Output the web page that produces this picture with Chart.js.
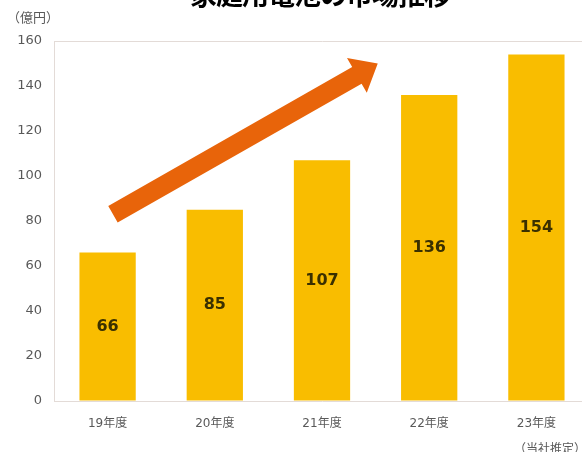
<!DOCTYPE html>
<html lang="ja">
<head>
<meta charset="utf-8">
<script src="https://cdn.jsdelivr.net/npm/chart.js@4.4.1/dist/chart.umd.min.js"></script>
<style>
  html, body { margin: 0; padding: 0; background: #fff; width: 582px; height: 452px; overflow: hidden; }
  .wrap { position: absolute; left: 0; top: 0; width: 592px; height: 452px; }
  .title { position: absolute; left: 190px; top: -26px; font: bold 27px "Noto Sans CJK JP", sans-serif; color: #000; white-space: nowrap; letter-spacing: -1px; }
  .unit { position: absolute; left: 7px; top: 7px; font: 13px "Noto Sans CJK JP", sans-serif; color: #595959; }
  .note { position: absolute; left: 514px; top: 439px; font: 12px "Noto Sans CJK JP", sans-serif; color: #595959; white-space: nowrap; }
</style>
</head>
<body>
<div class="wrap"><canvas id="market"></canvas></div>
<div class="title">家庭用電池の市場推移</div>
<div class="unit">（億円）</div>
<div class="note">（当社推定）</div>
<script>
const YEARS = ["19年度", "20年度", "21年度", "22年度", "23年度"];
const VALUES = [66, 85, 107, 136, 154];
const Y_TICKS = [0, 20, 40, 60, 80, 100, 120, 140, 160];
// trend arrow, in (category index, value) units
const ARROW_FROM = [0.05, 83];
const ARROW_TO = [2.52, 150];

const COLORS = {
  bar: "#F9BD00",
  arrow: "#E8640A",
  axis: "#E3DBD7",
  text: "#595959",
  label: "#3A3000"
};

const barLabels = {
  id: "barLabels",
  afterDatasetsDraw(chart){
    const { ctx } = chart;
    const meta = chart.getDatasetMeta(0);
    ctx.save();
    ctx.font = "bold 16px 'DejaVu Sans', sans-serif";
    ctx.fillStyle = COLORS.label;
    ctx.textAlign = "center";
    ctx.textBaseline = "middle";
    meta.data.forEach((bar, i) => {
      ctx.fillText(String(VALUES[i]), bar.x, (bar.y + bar.base) / 2);
    });
    ctx.restore();
  }
};

const trendArrow = {
  id: "trendArrow",
  afterDatasetsDraw(chart){
    const { ctx, scales: { x, y } } = chart;
    const x0 = x.getPixelForValue(ARROW_FROM[0]), y0 = y.getPixelForValue(ARROW_FROM[1]);
    const x1 = x.getPixelForValue(ARROW_TO[0]), y1 = y.getPixelForValue(ARROW_TO[1]);
    const ang = Math.atan2(y1 - y0, x1 - x0);
    const len = Math.hypot(x1 - x0, y1 - y0);
    const shaft = 19, headW = 40, headL = 24;
    ctx.save();
    ctx.translate(x0, y0);
    ctx.rotate(ang);
    ctx.fillStyle = COLORS.arrow;
    ctx.beginPath();
    ctx.moveTo(0, -shaft / 2);
    ctx.lineTo(len - headL, -shaft / 2);
    ctx.lineTo(len - headL, -headW / 2);
    ctx.lineTo(len, 0);
    ctx.lineTo(len - headL, headW / 2);
    ctx.lineTo(len - headL, shaft / 2);
    ctx.lineTo(0, shaft / 2);
    ctx.closePath();
    ctx.fill();
    ctx.restore();
  }
};

new Chart(document.getElementById("market"), {
  type: "bar",
  data: {
    labels: YEARS,
    datasets: [{
      data: VALUES,
      backgroundColor: COLORS.bar,
      borderWidth: 0,
      categoryPercentage: 1,
      barPercentage: 0.525
    }]
  },
  options: {
    responsive: true,
    maintainAspectRatio: false,
    animation: false,
    layout: { padding: { top: 41, right: 2, left: 0, bottom: 0 } },
    plugins: { legend: { display: false }, tooltip: { enabled: false } },
    scales: {
      x: {
        grid: { display: false },
        border: { display: true, color: COLORS.axis, width: 1 },
        ticks: { color: COLORS.text, font: { family: "'DejaVu Sans', 'Noto Sans CJK JP', sans-serif", size: 12 }, padding: 8 },
        afterFit(s){ s.height = 51; }
      },
      y: {
        min: 0,
        max: 160,
        afterBuildTicks(s){ s.ticks = Y_TICKS.map(v => ({ value: v })); },
        grid: {
          drawTicks: false,
          color: (c) => c.tick && c.tick.value === 160 ? COLORS.axis : "rgba(0,0,0,0)"
        },
        border: { display: true, color: COLORS.axis, width: 1 },
        ticks: { color: COLORS.text, font: { family: "'DejaVu Sans', sans-serif", size: 13 }, padding: 12 },
        afterFit(s){ s.width = 54; }
      }
    }
  },
  plugins: [barLabels, trendArrow]
});
</script>
</body>
</html>
